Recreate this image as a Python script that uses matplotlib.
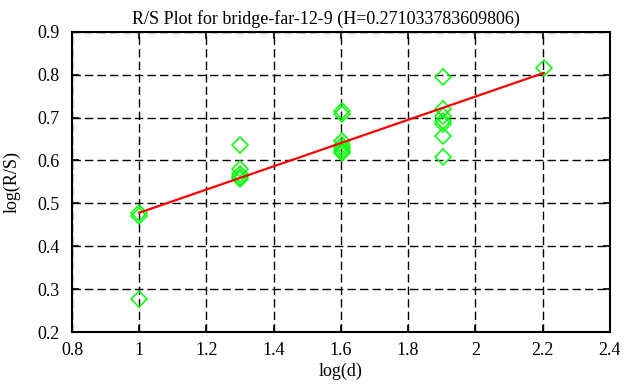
import matplotlib
matplotlib.use('Agg')
import matplotlib.pyplot as plt

# log(d) and log(R/S) values
x_1 = [1.0, 1.0, 1.0]
y_1 = [0.478, 0.470, 0.278]

x_2 = [1.301, 1.301, 1.301, 1.301, 1.301]
y_2 = [0.637, 0.580, 0.568, 0.562, 0.556]

x_3 = [1.602, 1.602, 1.602, 1.602, 1.602, 1.602, 1.602]
y_3 = [0.716, 0.708, 0.645, 0.635, 0.628, 0.622, 0.618]

x_4 = [1.903, 1.903, 1.903, 1.903, 1.903, 1.903, 1.903]
y_4 = [0.794, 0.719, 0.703, 0.691, 0.685, 0.656, 0.608]

x_5 = [2.204]
y_5 = [0.815]

# fitted line end points
fit_x = [1.0, 2.204]
fit_y = [0.478, 0.804]

title = 'R/S Plot for bridge-far-12-9 (H=0.271033783609806)'

plt.rcParams['font.family'] = ['Liberation Serif', 'DejaVu Serif']
plt.rcParams['font.size'] = 13

fig = plt.figure(figsize=(6.26, 3.87), dpi=100)
ax = fig.add_axes([0.115, 0.142, 0.859, 0.776])

xs = x_1 + x_2 + x_3 + x_4 + x_5
ys = y_1 + y_2 + y_3 + y_4 + y_5
ax.plot(xs, ys, linestyle='none', marker='D', markersize=7.7,
        markerfacecolor='none', markeredgecolor='#00ff00', markeredgewidth=1.1)
ax.plot(fit_x, fit_y, color='#ff0000', linewidth=1.6)

ax.set_xlim(0.8, 2.4)
ax.set_ylim(0.2, 0.9)
ax.set_xticks([0.8, 1, 1.2, 1.4, 1.6, 1.8, 2, 2.2, 2.4])
ax.set_xticklabels(['0.8', '1', '1.2', '1.4', '1.6', '1.8', '2', '2.2', '2.4'])
ax.set_yticks([0.2, 0.3, 0.4, 0.5, 0.6, 0.7, 0.8, 0.9])
ax.grid(True, color='black', linestyle=(0, (6, 3)), linewidth=1)
ax.set_axisbelow(True)
ax.tick_params(direction='in', top=True, right=True, length=5, width=1.2)
ax.tick_params(axis='x', pad=7)
ax.tick_params(axis='y', pad=9)
for s in ax.spines.values():
    s.set_linewidth(1.5)

# title sits a bit left of the axes centre, like the original
fig.text(0.52, 0.975, title, ha='center', va='top', fontsize=13)
ax.set_xlabel('log(d)', labelpad=3)
ax.set_ylabel('log(R/S)', labelpad=12)

fig.savefig('out.png', dpi=100)
